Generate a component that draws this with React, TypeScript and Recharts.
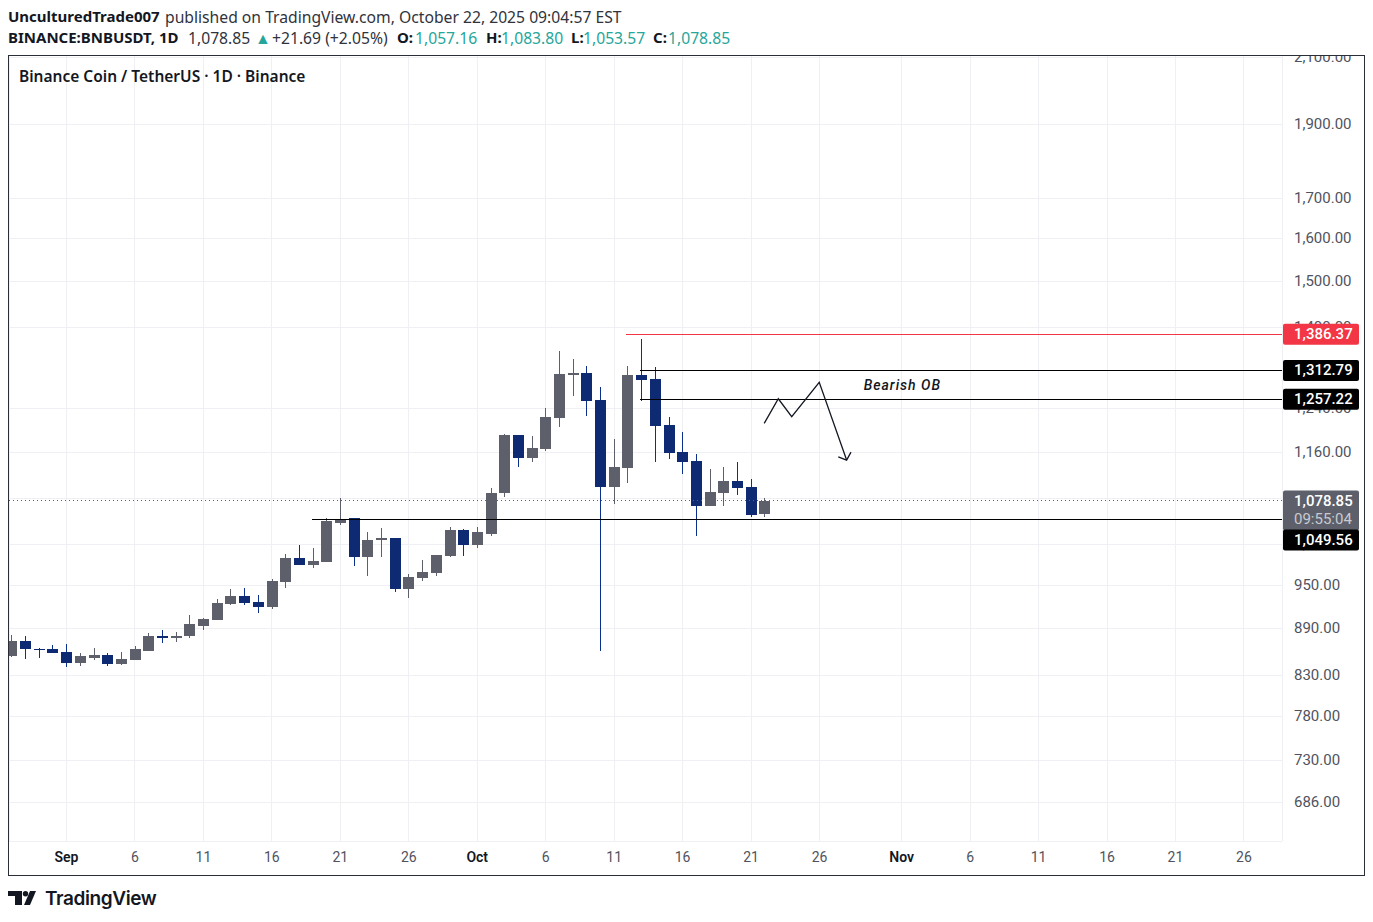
import { ComposedChart, Bar, Line, XAxis, YAxis, CartesianGrid, ReferenceLine, ReferenceDot } from "recharts";

const UP = "#5d606b";
const DOWN = "#0e2a72";
const DOWN_WICK = "#0b2f8c";
const AXIS_TEXT = "#50535e";
const TEAL = "#26a69a";
const INK = "#131722";
const FONT = "Roboto, sans-serif";
const HEAD_FONT = "'Noto Sans', sans-serif";
const CANDLE_WIDTH = 11;

// days are counted from Sep 1
const days = [
  -4, -3, -2, -1, 0, 1, 2, 3, 4, 5, 6, 7, 8, 9, 10, 11, 12, 13, 14, 15, 16, 17, 18, 19, 20, 21,
  22, 23, 24, 25, 26, 27, 28, 29, 30, 31, 32, 33, 34, 35, 36, 37, 38, 39, 40, 41, 42, 43, 44, 45, 46, 47,
  48, 49, 50, 51,
];
const opens = [
  855, 874, 864, 863, 859, 846, 852, 856, 844, 850, 861, 881, 878, 880, 894, 902, 924, 935, 927, 920, 955, 990, 980, 984, 1044, 1051,
  992, 1017, 1020, 945, 961, 968, 993, 1032, 1009, 1027, 1091, 1191, 1151, 1166, 1222, 1304, 1308, 1256, 1102, 1134, 1304, 1296, 1209, 1162, 1146, 1071,
  1092, 1112, 1102, 1057.16,
];
const highs = [
  882, 880, 865, 869, 870, 858, 865, 858, 859, 867, 885, 888, 886, 909, 905, 931, 945, 947, 937, 959, 996, 1009, 1005, 1051, 1084, 1052,
  1029, 1036, 1021, 967, 987, 994, 1038, 1035, 1038, 1100, 1193, 1191, 1189, 1240, 1352, 1336, 1322, 1281, 1184, 1322, 1376, 1320, 1224, 1197, 1158, 1132,
  1136, 1144, 1115, 1083.8,
];
const lows = [
  853, 851, 852, 858, 841, 842, 850, 842, 843, 850, 861, 872, 873, 878, 889, 902, 923, 923, 912, 917, 946, 980, 975, 984, 1041, 978,
  964, 992, 941, 932, 957, 964, 992, 993, 1005, 1024, 1086, 1136, 1144, 1163, 1206, 1264, 1226, 861, 1074, 1108, 1253, 1144, 1149, 1123, 1023, 1071,
  1070, 1089, 1053, 1053.57,
];
const closes = [
  874, 863, 863, 858, 846, 854, 856, 844, 851, 863, 881, 878, 881, 896, 904, 926, 935, 926, 920, 957, 990, 980, 986, 1046, 1049, 992,
  1018, 1020, 945, 962, 969, 994, 1032, 1009, 1029, 1092, 1191, 1151, 1168, 1224, 1306, 1308, 1254, 1102, 1136, 1304, 1294, 1207, 1160, 1144, 1071, 1094,
  1112, 1100, 1057, 1078.85,
];

const candles = days.map((day, i) => ({ day, open: opens[i], high: highs[i], low: lows[i], close: closes[i] }));

const xDomain = [-4.2, 88.78];
const yDomain = [647, 2112.5];
const xTicks = [0, 5, 10, 15, 20, 25, 30, 35, 40, 45, 50, 55, 61, 66, 71, 76, 81, 86];
const xLabels = ["Sep", "6", "11", "16", "21", "26", "Oct", "6", "11", "16", "21", "26", "Nov", "6", "11", "16", "21", "26"];
const yTicks = [686, 730, 780, 830, 890, 950, 1010, 1083, 1160, 1240, 1400, 1500, 1600, 1700, 1900, 2100];
// grid line only, its label is fully behind the last price tag
const hiddenTick = 1083;

const zigzag = [
  { day: 50.96, price: 1212.4 },
  { day: 51.99, price: 1258 },
  { day: 52.97, price: 1224.4 },
  { day: 54.98, price: 1289.4 },
  { day: 56.98, price: 1147.2 },
];
const arrowHead = [
  { day: 56.37, price: 1152.9 },
  { day: 56.98, price: 1147.2 },
  { day: 57.3, price: 1161 },
];

const money = (v: number) => v.toLocaleString("en-US", { minimumFractionDigits: 2 });

function Candle({ x, y, width, height, payload }: any) {
  const { open, close, high, low } = payload;
  const top = Math.min(y, y + height);
  const full = Math.abs(height);
  const toY = (v: number) => top + (full * Math.log(high / v)) / Math.log(high / low);
  const up = close >= open;
  const bodyTop = toY(Math.max(open, close));
  const bodyBottom = toY(Math.min(open, close));
  const mid = Math.round(x + (width || 0) / 2);
  return (
    <g shapeRendering="crispEdges">
      <rect x={mid} y={top} width={1} height={full} fill={up ? UP : DOWN_WICK} />
      <rect x={mid - 5} y={bodyTop} width={CANDLE_WIDTH} height={Math.max(bodyBottom - bodyTop, 1)} fill={up ? UP : DOWN} />
    </g>
  );
}

const priceTag = (price: number, fill: string, shift = 0) => ({ viewBox }: any) => {
  const cy = viewBox.y + shift;
  const right = viewBox.x + viewBox.width;
  return (
    <g>
      <rect x={right + 1} y={cy - 10.5} width={76} height={21} rx={2} fill={fill} />
      <text x={right + 12} y={cy + 5} fill="#ffffff" fontFamily={FONT} fontSize={15} fontWeight={500}>
        {money(price)}
      </text>
    </g>
  );
};

const lastPriceTag = ({ viewBox }: any) => {
  const cy = viewBox.y;
  const right = viewBox.x + viewBox.width;
  return (
    <g>
      <rect x={right + 1} y={cy - 10.5} width={76} height={40} rx={2} fill={UP} />
      <text x={right + 12} y={cy + 5} fill="#ffffff" fontFamily={FONT} fontSize={15} fontWeight={500}>1,078.85</text>
      <text x={right + 12} y={cy + 23} fill="#c9cad0" fontFamily={FONT} fontSize={15}>09:55:04</text>
    </g>
  );
};

function TimeTick({ x, y, index }: any) {
  const label = xLabels[index];
  const month = isNaN(Number(label));
  return (
    <text x={x} y={y + 13} textAnchor="middle" fontFamily={FONT} fontSize={14} fontWeight={month ? 600 : 400} fill={month ? INK : AXIS_TEXT}>
      {label}
    </text>
  );
}

function PriceTick({ x, y, payload }: any) {
  if (payload.value === hiddenTick) return null;
  return (
    <text x={x + 10} y={y + 4.5} fontFamily={FONT} fontSize={15} fill={AXIS_TEXT}>
      {money(payload.value)}
    </text>
  );
}

const bold: any = { fontWeight: 700, color: INK, fontSize: 15 };
const thin: any = { color: "#30333c" };
const teal: any = { color: TEAL };

function Span({ left, style, children }: any) {
  return <span style={{ position: "absolute", left, top: 0, ...style }}>{children}</span>;
}

function Header() {
  return (
    <div style={{ position: "absolute", left: 0, top: 0, width: 1373, height: 55, background: "#fff", zIndex: 2, fontFamily: HEAD_FONT, fontSize: 15.7, whiteSpace: "nowrap" }}>
      <div style={{ position: "absolute", left: 0, top: 6, width: 1373 }}>
        <Span left={8} style={bold}>UnculturedTrade007</Span>
        <Span left={165} style={thin}>published on TradingView.com, October 22, 2025 09:04:57 EST</Span>
      </div>
      <div style={{ position: "absolute", left: 0, top: 27, width: 1373 }}>
        <Span left={8} style={bold}>BINANCE:BNBUSDT, 1D</Span>
        <Span left={188} style={thin}>1,078.85</Span>
        <Span left={255} style={{ ...teal, fontSize: 16 }}>▲</Span>
        <Span left={272} style={thin}>+21.69 (+2.05%)</Span>
        <Span left={397} style={bold}>O:</Span>
        <Span left={415} style={teal}>1,057.16</Span>
        <Span left={486} style={bold}>H:</Span>
        <Span left={501} style={teal}>1,083.80</Span>
        <Span left={571} style={bold}>L:</Span>
        <Span left={583} style={teal}>1,053.57</Span>
        <Span left={653} style={bold}>C:</Span>
        <Span left={668} style={teal}>1,078.85</Span>
      </div>
    </div>
  );
}

function Logo() {
  return (
    <svg style={{ position: "absolute", left: 8, top: 881 }} width={170} height={36}>
      <g fill={INK} transform="translate(0,10)">
        <path d="M0 0h14v14H7V5H0z" />
        <circle cx={17.5} cy={2.7} r={2.7} />
        <path d="M22 0h6l-6 14h-6z" />
      </g>
      <text x={37} y={24} fontFamily="Inter, sans-serif" fontSize={19} fontWeight={600} letterSpacing={-0.4} fill={INK}>
        TradingView
      </text>
    </svg>
  );
}

export default function App() {
  return (
    <div style={{ position: "absolute", left: 0, top: 0, width: 1373, height: 922, background: "#fff", overflow: "hidden" }}>
      <ComposedChart width={1373} height={922} data={candles} margin={{ top: 54, right: 8, bottom: 47, left: 9 }}>
        <CartesianGrid stroke="#eff0f3" strokeWidth={1} shapeRendering="crispEdges" />
        <XAxis
          dataKey="day"
          type="number"
          domain={xDomain}
          ticks={xTicks}
          interval={0}
          allowDataOverflow
          axisLine={false}
          tickLine={false}
          height={34}
          tick={<TimeTick />}
        />
        <YAxis
          orientation="right"
          scale="log"
          domain={yDomain}
          ticks={yTicks}
          interval={0}
          allowDataOverflow
          width={83}
          axisLine={false}
          tickLine={false}
          tickSize={0}
          tick={<PriceTick />}
        />
        <ReferenceLine y={1078.85} stroke={UP} strokeDasharray="1 3" shapeRendering="crispEdges" />
        <Bar dataKey={(d: any) => [d.low, d.high]} barSize={CANDLE_WIDTH} shape={<Candle />} isAnimationActive={false} />
      </ComposedChart>

      {/* second layer so the price tags and drawings sit on top of the axis labels */}
      <div style={{ position: "absolute", left: 0, top: 0 }}>
        <ComposedChart width={1373} height={922} data={candles} margin={{ top: 54, right: 91, bottom: 81, left: 9 }}>
          <XAxis dataKey="day" type="number" domain={xDomain} allowDataOverflow hide />
          <YAxis scale="log" domain={yDomain} allowDataOverflow hide />
          <ReferenceLine y={1078.85} stroke="none" label={lastPriceTag} />
          <ReferenceLine
            segment={[{ x: 40.9, y: 1386.37 }, { x: xDomain[1], y: 1386.37 }]}
            stroke="#f23645"
            shapeRendering="crispEdges"
            label={priceTag(1386.37, "#f23645")}
          />
          <ReferenceLine
            segment={[{ x: 41.9, y: 1312.79 }, { x: xDomain[1], y: 1312.79 }]}
            stroke="#000000"
            shapeRendering="crispEdges"
            label={priceTag(1312.79, "#000000")}
          />
          <ReferenceLine
            segment={[{ x: 41.9, y: 1257.22 }, { x: xDomain[1], y: 1257.22 }]}
            stroke="#000000"
            shapeRendering="crispEdges"
            label={priceTag(1257.22, "#000000")}
          />
          <ReferenceLine
            segment={[{ x: 17.9, y: 1049.56 }, { x: xDomain[1], y: 1049.56 }]}
            stroke="#000000"
            shapeRendering="crispEdges"
            label={priceTag(1049.56, "#000000", 20.7)}
          />
          <Line data={zigzag} dataKey="price" type="linear" stroke={INK} strokeWidth={1.3} dot={false} isAnimationActive={false} />
          <Line data={arrowHead} dataKey="price" type="linear" stroke={INK} strokeWidth={1.3} dot={false} isAnimationActive={false} />
          <ReferenceDot
            x={61.05}
            y={1284.2}
            r={0}
            fill="none"
            stroke="none"
            label={{ value: "Bearish OB", position: "center", fill: INK, fontSize: 14, fontStyle: "italic", fontWeight: 500, fontFamily: FONT, letterSpacing: 1 }}
          />
        </ComposedChart>
      </div>

      <Header />
      <div style={{ position: "absolute", left: 19, top: 65, fontFamily: HEAD_FONT, fontSize: 15.5, fontWeight: 600, color: INK }}>
        Binance Coin / TetherUS · 1D · Binance
      </div>
      <div style={{ position: "absolute", left: 8, top: 55, width: 1357, height: 821, boxSizing: "border-box", border: "1px solid #2a2e39", pointerEvents: "none" }} />
      <Logo />
    </div>
  );
}
